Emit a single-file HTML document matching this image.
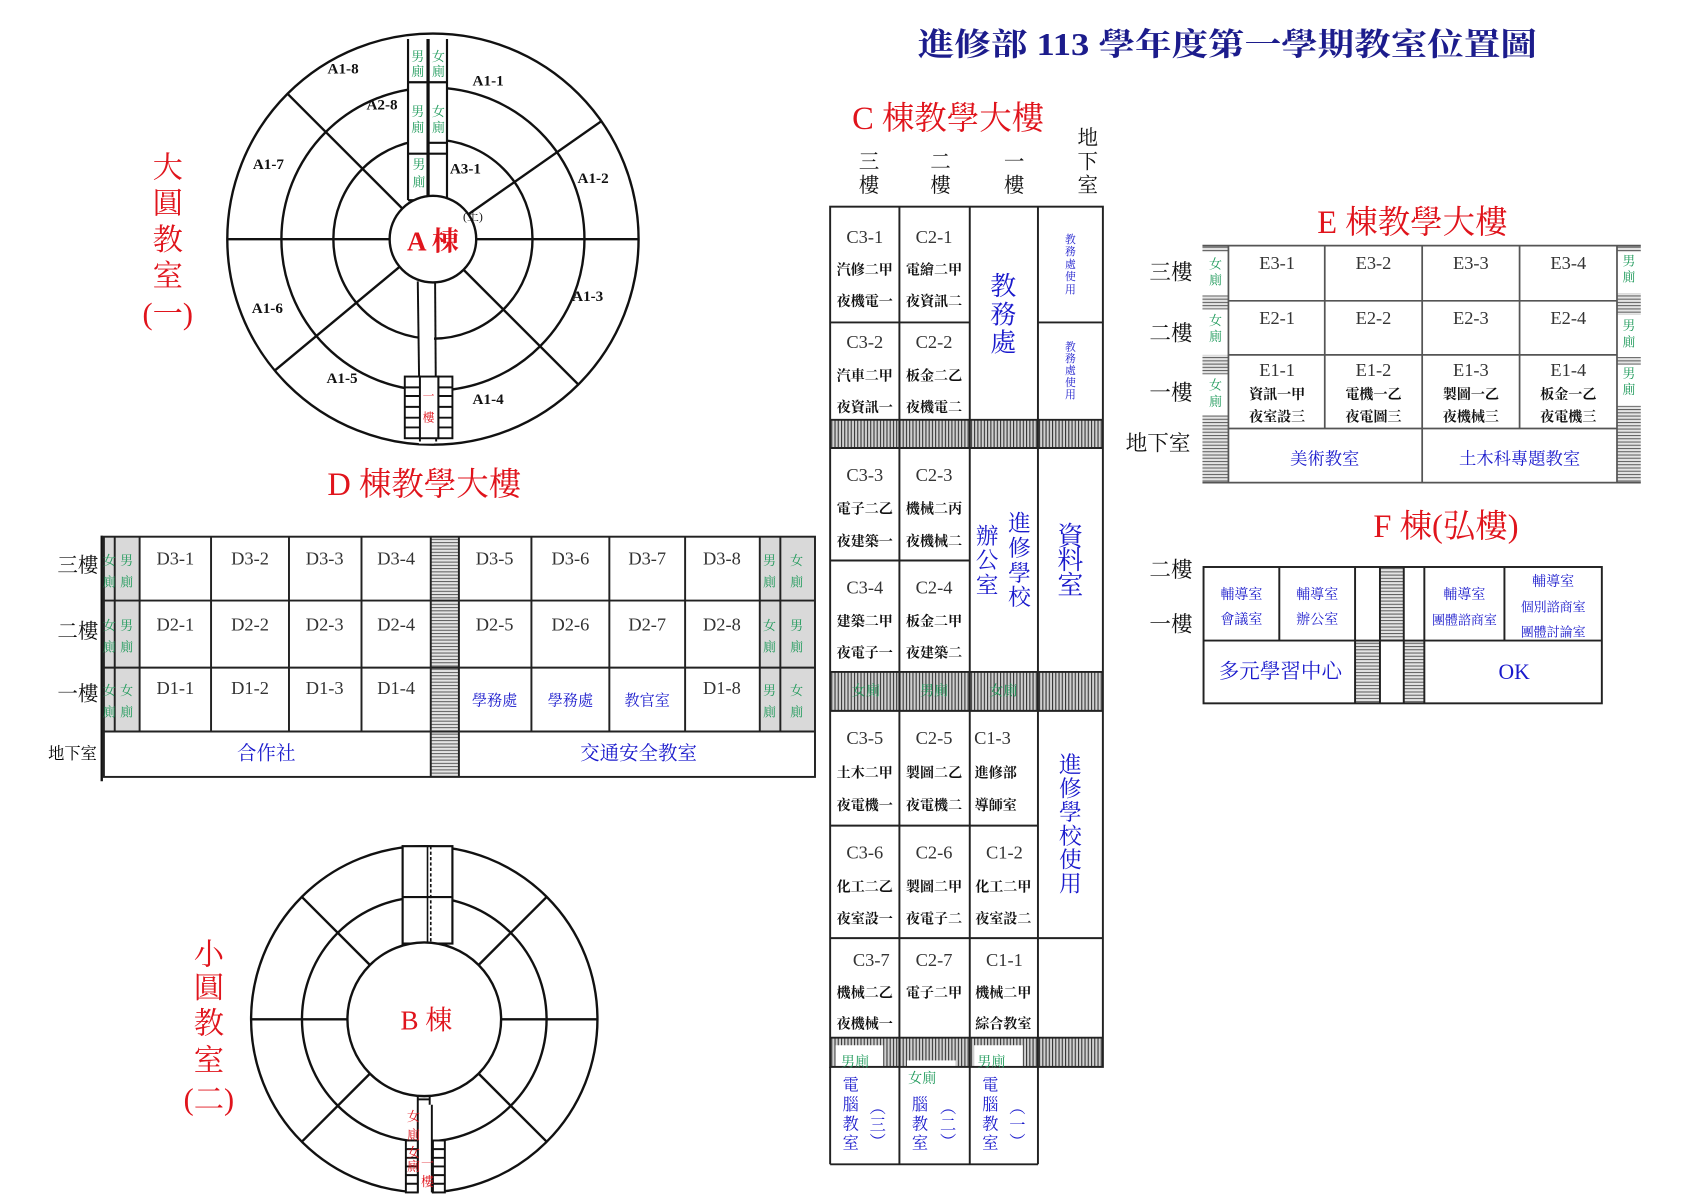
<!DOCTYPE html>
<html><head><meta charset="utf-8"><style>
html,body{margin:0;padding:0;background:#fff;}
svg{display:block;}
text{font-family:"Liberation Serif","Noto Serif CJK SC",serif;dominant-baseline:central;text-anchor:middle;}
.r{fill:#e0141c}.b{fill:#1a1acc}.g{fill:#1e9a5a}.k{fill:#111}
.cls{font-weight:bold;font-size:13px;fill:#111}
.rm{font-size:17px;fill:#333}
.lab{font-weight:bold;font-size:14px;fill:#111}
</style></head><body>
<svg width="1696" height="1200" viewBox="0 0 1567 1109" preserveAspectRatio="none" xmlns="http://www.w3.org/2000/svg">
<defs>
<pattern id="vh" width="3" height="6" patternUnits="userSpaceOnUse"><rect width="3" height="6" fill="#d0d0d0"/><line x1="0.5" y1="0" x2="0.5" y2="6" stroke="#333" stroke-width="1"/></pattern>
<pattern id="hh" width="6" height="3" patternUnits="userSpaceOnUse"><rect width="6" height="3" fill="#e4e4e4"/><line x1="0" y1="0.5" x2="6" y2="0.5" stroke="#555" stroke-width="0.9"/></pattern>
</defs>
<rect width="1567" height="1109" fill="#fff"/>

<!-- Title -->
<text x="1134" y="41" font-size="29" font-weight="bold" fill="#1c1c8c" textLength="572" lengthAdjust="spacingAndGlyphs">進修部 113 學年度第一學期教室位置圖</text>

<!-- ========== A circle ========== -->
<g stroke="#111" stroke-width="2.2" fill="none">
<circle cx="400" cy="221" r="190"/>
<circle cx="400" cy="221" r="140"/>
<circle cx="400" cy="221" r="92"/>
<line x1="360" y1="221" x2="210" y2="221"/>
<line x1="440" y1="221" x2="590" y2="221"/>
<line x1="371.7" y1="192.7" x2="265.6" y2="86.6"/>
<line x1="432.8" y1="198" x2="555.6" y2="112"/>
<line x1="428.3" y1="249.3" x2="534.4" y2="355.4"/>
<line x1="369.2" y1="246.6" x2="253.7" y2="342.6"/>
</g>
<!-- top corridor -->
<rect x="377" y="36" width="36" height="150" fill="#fff"/>
<g stroke="#111" stroke-width="2" fill="none">
<line x1="377" y1="36" x2="377" y2="185"/><line x1="395" y1="36" x2="395" y2="185"/>
<line x1="396" y1="36" x2="396" y2="185"/><line x1="413" y1="36" x2="413" y2="185"/>
<line x1="377" y1="76" x2="413" y2="76"/><line x1="377" y1="142" x2="413" y2="142"/>
<line x1="396" y1="132" x2="413" y2="132"/><line x1="377" y1="185" x2="413" y2="185"/>
</g>
<g font-size="12" class="g">
<text x="386" y="52" class="g">男</text><text x="386" y="66" class="g">廁</text>
<text x="405" y="52" class="g">女</text><text x="405" y="66" class="g">廁</text>
<text x="386" y="103" class="g">男</text><text x="386" y="118" class="g">廁</text>
<text x="405" y="103" class="g">女</text><text x="405" y="118" class="g">廁</text>
<text x="387" y="152" class="g">男</text><text x="387" y="168" class="g">廁</text>
</g>
<!-- bottom corridor -->
<rect x="387" y="260" width="14" height="150" fill="#fff"/>
<g stroke="#111" stroke-width="1.8" fill="none">
<line x1="386" y1="260" x2="388" y2="408"/><line x1="402" y1="260" x2="403" y2="408"/>
<rect x="374" y="348" width="14" height="57" fill="#fff"/>
<rect x="405" y="348" width="13" height="57" fill="#fff"/>
<rect x="388" y="348" width="17" height="57" fill="#fff"/>
<path d="M374 358h14M374 366h14M374 376h14M374 386h14M374 395h14M405 358h13M405 366h13M405 376h13M405 386h13M405 395h13"/>
</g>
<text x="396" y="366" font-size="11" class="r">一</text><text x="396" y="386" font-size="11" class="r">樓</text>
<!-- center -->
<circle cx="400" cy="221" r="40" fill="#fff" stroke="#111" stroke-width="2.2"/>
<text x="400" y="223" font-size="25" font-weight="bold" class="r">A 棟</text>
<g class="lab">
<text x="317" y="64" class="lab">A1-8</text><text x="451" y="75" class="lab">A1-1</text>
<text x="353" y="97" class="lab">A2-8</text><text x="248" y="152" class="lab">A1-7</text>
<text x="430" y="156" class="lab">A3-1</text><text x="548" y="165" class="lab">A1-2</text>
<text x="247" y="285" class="lab">A1-6</text><text x="543" y="274" class="lab">A1-3</text>
<text x="316" y="350" class="lab">A1-5</text><text x="451" y="369" class="lab">A1-4</text>
</g>
<text x="437" y="200" font-size="11" class="k">(土)</text>
<g font-size="28" class="r">
<text x="155" y="155" class="r">大</text><text x="155" y="188" class="r">圓</text>
<text x="155" y="222" class="r">教</text><text x="155" y="255" class="r">室</text>
<text x="155" y="290" class="r">(一)</text>
</g>

<!-- ========== B circle ========== -->
<g stroke="#111" stroke-width="2.2" fill="none">
<circle cx="392" cy="942" r="160"/>
<circle cx="392" cy="942" r="113"/>
<line x1="321" y1="942" x2="232" y2="942"/>
<line x1="463" y1="942" x2="552" y2="942"/>
<line x1="341.8" y1="891.8" x2="278.9" y2="828.9"/>
<line x1="442.2" y1="891.8" x2="505.1" y2="828.9"/>
<line x1="341.8" y1="992.2" x2="278.9" y2="1055.1"/>
<line x1="442.2" y1="992.2" x2="505.1" y2="1055.1"/>
</g>
<rect x="372" y="782" width="46" height="90" fill="#fff" stroke="#111" stroke-width="2"/>
<line x1="372" y1="829" x2="418" y2="829" stroke="#111" stroke-width="2"/>
<line x1="395" y1="782" x2="395" y2="872" stroke="#111" stroke-width="1.5"/>
<line x1="398" y1="782" x2="398" y2="872" stroke="#111" stroke-width="1.5" stroke-dasharray="3 2"/>
<rect x="386" y="1005" width="13" height="100" fill="#fff"/>
<g stroke="#111" stroke-width="1.8" fill="none">
<line x1="386" y1="1012" x2="386" y2="1102"/><line x1="399" y1="1021" x2="399" y2="1102"/>
<path d="M386 1012h11v9"/><path d="M386 1016h11"/>
<rect x="375" y="1054" width="11" height="48" fill="#fff"/>
<rect x="400" y="1054" width="11" height="48" fill="#fff"/>
<path d="M375 1062h11M375 1070h11M375 1078h11M375 1086h11M375 1094h11M400 1062h11M400 1070h11M400 1078h11M400 1086h11M400 1094h11"/>
</g>
<circle cx="392" cy="942" r="71" fill="#fff" stroke="#111" stroke-width="2.2"/>
<text x="394" y="943" font-size="25" class="r">B 棟</text>
<g font-size="12">
<text x="382" y="1032" class="r">女</text><text x="382" y="1049" class="r">廁</text>
<text x="382" y="1065" class="r">女</text><text x="382" y="1078" class="r">廁</text>
<text x="395" y="1075" class="r">一</text><text x="395" y="1092" class="r">樓</text>
</g>
<g font-size="28">
<text x="193" y="882" class="r">小</text><text x="193" y="913" class="r">圓</text>
<text x="193" y="946" class="r">教</text><text x="193" y="980" class="r">室</text>
<text x="193" y="1016" class="r">(二)</text>
</g>

<!-- ========== D building ========== -->
<text x="392" y="448" font-size="30" class="r">D 棟教學大樓</text>
<line x1="94" y1="495" x2="94" y2="722" stroke="#111" stroke-width="2.2"/>
<rect x="96" y="496" width="33" height="180" fill="#d9d9d9"/>
<rect x="702" y="496" width="51" height="180" fill="#d9d9d9"/>
<rect x="398" y="496" width="26" height="222" fill="url(#hh)"/>
<g stroke="#222" stroke-width="1.8" fill="none">
<rect x="96" y="496" width="657" height="222"/>
<line x1="96" y1="555" x2="753" y2="555"/><line x1="96" y1="617" x2="753" y2="617"/><line x1="96" y1="676" x2="753" y2="676"/>
<line x1="106" y1="496" x2="106" y2="676"/><line x1="129" y1="496" x2="129" y2="676"/>
<line x1="195" y1="496" x2="195" y2="676"/><line x1="267" y1="496" x2="267" y2="676"/>
<line x1="334" y1="496" x2="334" y2="676"/><line x1="398" y1="496" x2="398" y2="718"/>
<line x1="424" y1="496" x2="424" y2="718"/><line x1="491" y1="496" x2="491" y2="676"/>
<line x1="563" y1="496" x2="563" y2="676"/><line x1="633" y1="496" x2="633" y2="676"/>
<line x1="702" y1="496" x2="702" y2="676"/><line x1="721" y1="496" x2="721" y2="676"/>
</g>
<g font-size="19" class="k">
<text x="72" y="523">三樓</text><text x="72" y="584">二樓</text><text x="72" y="642">一樓</text>
</g>
<text x="67" y="697" font-size="15">地下室</text>
<g class="rm">
<text x="162" y="516">D3-1</text><text x="231" y="516">D3-2</text><text x="300" y="516">D3-3</text><text x="366" y="516">D3-4</text>
<text x="457" y="516">D3-5</text><text x="527" y="516">D3-6</text><text x="598" y="516">D3-7</text><text x="667" y="516">D3-8</text>
<text x="162" y="577">D2-1</text><text x="231" y="577">D2-2</text><text x="300" y="577">D2-3</text><text x="366" y="577">D2-4</text>
<text x="457" y="577">D2-5</text><text x="527" y="577">D2-6</text><text x="598" y="577">D2-7</text><text x="667" y="577">D2-8</text>
<text x="162" y="636">D1-1</text><text x="231" y="636">D1-2</text><text x="300" y="636">D1-3</text><text x="366" y="636">D1-4</text>
<text x="667" y="636">D1-8</text>
</g>
<g font-size="14" class="b">
<text x="457" y="648" class="b">學務處</text><text x="527" y="648" class="b">學務處</text><text x="598" y="648" class="b">教官室</text>
</g>
<text x="246" y="697" font-size="18" class="b">合作社</text>
<text x="590" y="697" font-size="18" class="b">交通安全教室</text>
<g font-size="12">
<text x="101" y="518" class="g">女</text><text x="101" y="538" class="g">廁</text><text x="117" y="518" class="g">男</text><text x="117" y="538" class="g">廁</text>
<text x="101" y="578" class="g">女</text><text x="101" y="598" class="g">廁</text><text x="117" y="578" class="g">男</text><text x="117" y="598" class="g">廁</text>
<text x="101" y="638" class="g">女</text><text x="101" y="658" class="g">廁</text><text x="117" y="638" class="g">女</text><text x="117" y="658" class="g">廁</text>
<text x="711" y="518" class="g">男</text><text x="711" y="538" class="g">廁</text><text x="736" y="518" class="g">女</text><text x="736" y="538" class="g">廁</text>
<text x="711" y="578" class="g">女</text><text x="711" y="598" class="g">廁</text><text x="736" y="578" class="g">男</text><text x="736" y="598" class="g">廁</text>
<text x="711" y="638" class="g">男</text><text x="711" y="658" class="g">廁</text><text x="736" y="638" class="g">女</text><text x="736" y="658" class="g">廁</text>
</g>

<!-- ========== C building ========== -->
<text x="876" y="110" font-size="30" class="r">C 棟教學大樓</text>
<g font-size="19" class="k">
<text x="803" y="150">三</text><text x="803" y="172">樓</text>
<text x="869" y="150">二</text><text x="869" y="172">樓</text>
<text x="937" y="150">一</text><text x="937" y="172">樓</text>
<text x="1005" y="128">地</text><text x="1005" y="150">下</text><text x="1005" y="172">室</text>
</g>
<rect x="767" y="388" width="252" height="26" fill="url(#vh)"/>
<rect x="767" y="621" width="252" height="36" fill="url(#vh)"/>
<rect x="767" y="959" width="252" height="27" fill="url(#vh)"/>
<rect x="772" y="966" width="44" height="20" fill="#fff"/>
<rect x="838" y="980" width="45" height="8" fill="#fff"/>
<rect x="900" y="966" width="45" height="20" fill="#fff"/>
<g stroke="#222" stroke-width="1.8" fill="none">
<rect x="767" y="191" width="252" height="795"/>
<line x1="767" y1="986" x2="767" y2="1076"/><line x1="959" y1="986" x2="959" y2="1076"/><line x1="767" y1="1076" x2="959" y2="1076"/>
<line x1="831" y1="191" x2="831" y2="1076"/><line x1="896" y1="191" x2="896" y2="1076"/><line x1="959" y1="191" x2="959" y2="986"/>
<line x1="767" y1="298" x2="896" y2="298"/><line x1="959" y1="298" x2="1019" y2="298"/>
<line x1="767" y1="388" x2="1019" y2="388"/><line x1="767" y1="414" x2="1019" y2="414"/>
<line x1="767" y1="518" x2="896" y2="518"/>
<line x1="767" y1="621" x2="1019" y2="621"/><line x1="767" y1="657" x2="1019" y2="657"/>
<line x1="767" y1="763" x2="959" y2="763"/><line x1="767" y1="867" x2="1019" y2="867"/>
<line x1="767" y1="959" x2="1019" y2="959"/>
</g>
<g class="rm">
<text x="799" y="219">C3-1</text><text x="863" y="219">C2-1</text>
<text x="799" y="316">C3-2</text><text x="863" y="316">C2-2</text>
<text x="799" y="439">C3-3</text><text x="863" y="439">C2-3</text>
<text x="799" y="543">C3-4</text><text x="863" y="543">C2-4</text>
<text x="799" y="682">C3-5</text><text x="863" y="682">C2-5</text><text x="917" y="682">C1-3</text>
<text x="799" y="788">C3-6</text><text x="863" y="788">C2-6</text><text x="928" y="788">C1-2</text>
<text x="805" y="887">C3-7</text><text x="863" y="887">C2-7</text><text x="928" y="887">C1-1</text>
</g>
<g class="cls">
<text x="799" y="250">汽修二甲</text><text x="863" y="250">電繪二甲</text>
<text x="799" y="279">夜機電一</text><text x="863" y="279">夜資訊二</text>
<text x="799" y="348">汽車二甲</text><text x="863" y="348">板金二乙</text>
<text x="799" y="377">夜資訊一</text><text x="863" y="377">夜機電二</text>
<text x="799" y="471">電子二乙</text><text x="863" y="471">機械二丙</text>
<text x="799" y="501">夜建築一</text><text x="863" y="501">夜機械二</text>
<text x="799" y="575">建築二甲</text><text x="863" y="575">板金二甲</text>
<text x="799" y="604">夜電子一</text><text x="863" y="604">夜建築二</text>
<text x="799" y="715">土木二甲</text><text x="863" y="715">製圖二乙</text><text x="920" y="715">進修部</text>
<text x="799" y="745">夜電機一</text><text x="863" y="745">夜電機二</text><text x="920" y="745">導師室</text>
<text x="799" y="820">化工二乙</text><text x="863" y="820">製圖二甲</text><text x="927" y="820">化工二甲</text>
<text x="799" y="850">夜室設一</text><text x="863" y="850">夜電子二</text><text x="927" y="850">夜室設二</text>
<text x="799" y="918">機械二乙</text><text x="863" y="918">電子二甲</text><text x="927" y="918">機械二甲</text>
<text x="799" y="947">夜機械一</text><text x="927" y="947">綜合教室</text>
</g>
<g font-size="24">
<text x="927" y="265" class="b">教</text><text x="927" y="291" class="b">務</text><text x="927" y="317" class="b">處</text>
<text x="989" y="496" class="b">資</text><text x="989" y="518" class="b">料</text><text x="989" y="541" class="b">室</text>
</g>
<g font-size="21">
<text x="912" y="496" class="b">辦</text><text x="912" y="518" class="b">公</text><text x="912" y="541" class="b">室</text>
<text x="942" y="484" class="b">進</text><text x="942" y="507" class="b">修</text><text x="942" y="530" class="b">學</text><text x="942" y="552" class="b">校</text>
<text x="989" y="707" class="b">進</text><text x="989" y="729" class="b">修</text><text x="989" y="751" class="b">學</text><text x="989" y="773" class="b">校</text><text x="989" y="795" class="b">使</text><text x="989" y="817" class="b">用</text>
</g>
<g font-size="10">
<text x="989" y="222" class="b">教</text><text x="989" y="233" class="b">務</text><text x="989" y="245" class="b">處</text><text x="989" y="256" class="b">使</text><text x="989" y="268" class="b">用</text>
<text x="989" y="321" class="b">教</text><text x="989" y="332" class="b">務</text><text x="989" y="343" class="b">處</text><text x="989" y="354" class="b">使</text><text x="989" y="365" class="b">用</text>
</g>
<g font-size="13">
<text x="800" y="639" class="g">女廁</text><text x="863" y="639" class="g">男廁</text><text x="927" y="639" class="g">女廁</text>
<text x="790" y="982" class="g">男廁</text><text x="852" y="997" class="g">女廁</text><text x="916" y="982" class="g">男廁</text>
</g>
<g font-size="15">
<text x="786" y="1003" class="b">電</text><text x="786" y="1021" class="b">腦</text><text x="786" y="1039" class="b">教</text><text x="786" y="1057" class="b">室</text>
<text x="811" y="1024" class="b">︵</text><text x="811" y="1040" class="b">三</text><text x="811" y="1056" class="b">︶</text>
<text x="850" y="1021" class="b">腦</text><text x="850" y="1039" class="b">教</text><text x="850" y="1057" class="b">室</text>
<text x="876" y="1024" class="b">︵</text><text x="876" y="1040" class="b">二</text><text x="876" y="1056" class="b">︶</text>
<text x="915" y="1003" class="b">電</text><text x="915" y="1021" class="b">腦</text><text x="915" y="1039" class="b">教</text><text x="915" y="1057" class="b">室</text>
<text x="940" y="1024" class="b">︵</text><text x="940" y="1040" class="b">一</text><text x="940" y="1056" class="b">︶</text>
</g>

<!-- ========== E building ========== -->
<text x="1305" y="206" font-size="30" class="r">E 棟教學大樓</text>
<rect x="1111" y="227" width="24" height="6" fill="url(#hh)"/>
<rect x="1111" y="273" width="24" height="13" fill="url(#hh)"/>
<rect x="1111" y="328" width="24" height="18" fill="url(#hh)"/>
<rect x="1111" y="384" width="24" height="62" fill="url(#hh)"/>
<rect x="1494" y="227" width="22" height="6" fill="url(#hh)"/>
<rect x="1494" y="271" width="22" height="20" fill="url(#hh)"/>
<rect x="1494" y="330" width="22" height="7" fill="url(#hh)"/>
<rect x="1494" y="375" width="22" height="71" fill="url(#hh)"/>
<g stroke="#555" stroke-width="1.6" fill="none">
<line x1="1111" y1="227" x2="1516" y2="227"/>
<line x1="1111" y1="446" x2="1516" y2="446"/>
<line x1="1135" y1="227" x2="1135" y2="446"/><line x1="1494" y1="227" x2="1494" y2="446"/>
<line x1="1135" y1="278" x2="1494" y2="278"/><line x1="1135" y1="328" x2="1494" y2="328"/><line x1="1135" y1="396" x2="1494" y2="396"/>
<line x1="1224" y1="227" x2="1224" y2="396"/><line x1="1314" y1="227" x2="1314" y2="446"/><line x1="1404" y1="227" x2="1404" y2="396"/>
</g>
<g class="rm" font-size="15">
<text x="1180" y="243">E3-1</text><text x="1269" y="243">E3-2</text><text x="1359" y="243">E3-3</text><text x="1449" y="243">E3-4</text>
<text x="1180" y="294">E2-1</text><text x="1269" y="294">E2-2</text><text x="1359" y="294">E2-3</text><text x="1449" y="294">E2-4</text>
<text x="1180" y="342">E1-1</text><text x="1269" y="342">E1-2</text><text x="1359" y="342">E1-3</text><text x="1449" y="342">E1-4</text>
</g>
<g class="cls">
<text x="1180" y="365">資訊一甲</text><text x="1269" y="365">電機一乙</text><text x="1359" y="365">製圖一乙</text><text x="1449" y="365">板金一乙</text>
<text x="1180" y="386">夜室設三</text><text x="1269" y="386">夜電圖三</text><text x="1359" y="386">夜機械三</text><text x="1449" y="386">夜電機三</text>
</g>
<text x="1224" y="424" font-size="16" class="b">美術教室</text>
<text x="1404" y="424" font-size="16" class="b">土木科專題教室</text>
<g font-size="12">
<text x="1123" y="244" class="g">女</text><text x="1123" y="259" class="g">廁</text>
<text x="1123" y="296" class="g">女</text><text x="1123" y="311" class="g">廁</text>
<text x="1123" y="356" class="g">女</text><text x="1123" y="371" class="g">廁</text>
<text x="1505" y="241" class="g">男</text><text x="1505" y="256" class="g">廁</text>
<text x="1505" y="301" class="g">男</text><text x="1505" y="316" class="g">廁</text>
<text x="1505" y="345" class="g">男</text><text x="1505" y="360" class="g">廁</text>
</g>
<g font-size="20" class="k">
<text x="1082" y="252">三樓</text><text x="1082" y="308">二樓</text><text x="1082" y="363">一樓</text><text x="1070" y="410">地下室</text>
<text x="1082" y="527">二樓</text><text x="1082" y="577">一樓</text>
</g>

<!-- ========== F building ========== -->
<text x="1336" y="487" font-size="30" class="r">F 棟(弘樓)</text>
<rect x="1275" y="524" width="22" height="68" fill="url(#hh)"/>
<rect x="1252" y="592" width="23" height="58" fill="url(#hh)"/>
<rect x="1297" y="592" width="19" height="58" fill="url(#hh)"/>
<g stroke="#222" stroke-width="1.8" fill="none">
<rect x="1112" y="524" width="368" height="126"/>
<line x1="1112" y1="592" x2="1480" y2="592"/>
<line x1="1182" y1="524" x2="1182" y2="592"/>
<line x1="1252" y1="524" x2="1252" y2="650"/><line x1="1275" y1="524" x2="1275" y2="650"/>
<line x1="1297" y1="524" x2="1297" y2="650"/><line x1="1316" y1="524" x2="1316" y2="650"/>
<line x1="1390" y1="524" x2="1390" y2="592"/>
</g>
<g font-size="13">
<text x="1147" y="550" class="b">輔導室</text><text x="1147" y="573" class="b">會議室</text>
<text x="1217" y="550" class="b">輔導室</text><text x="1217" y="573" class="b">辦公室</text>
<text x="1353" y="550" class="b">輔導室</text><text x="1353" y="573" font-size="12" class="b">團體諮商室</text>
<text x="1435" y="538" class="b">輔導室</text><text x="1435" y="561" font-size="12" class="b">個別諮商室</text><text x="1435" y="584" font-size="12" class="b">團體討論室</text>
</g>
<text x="1183" y="621" font-size="19" class="b">多元學習中心</text>
<text x="1399" y="621" font-size="20" class="b">OK</text>
</svg>
</body></html>
